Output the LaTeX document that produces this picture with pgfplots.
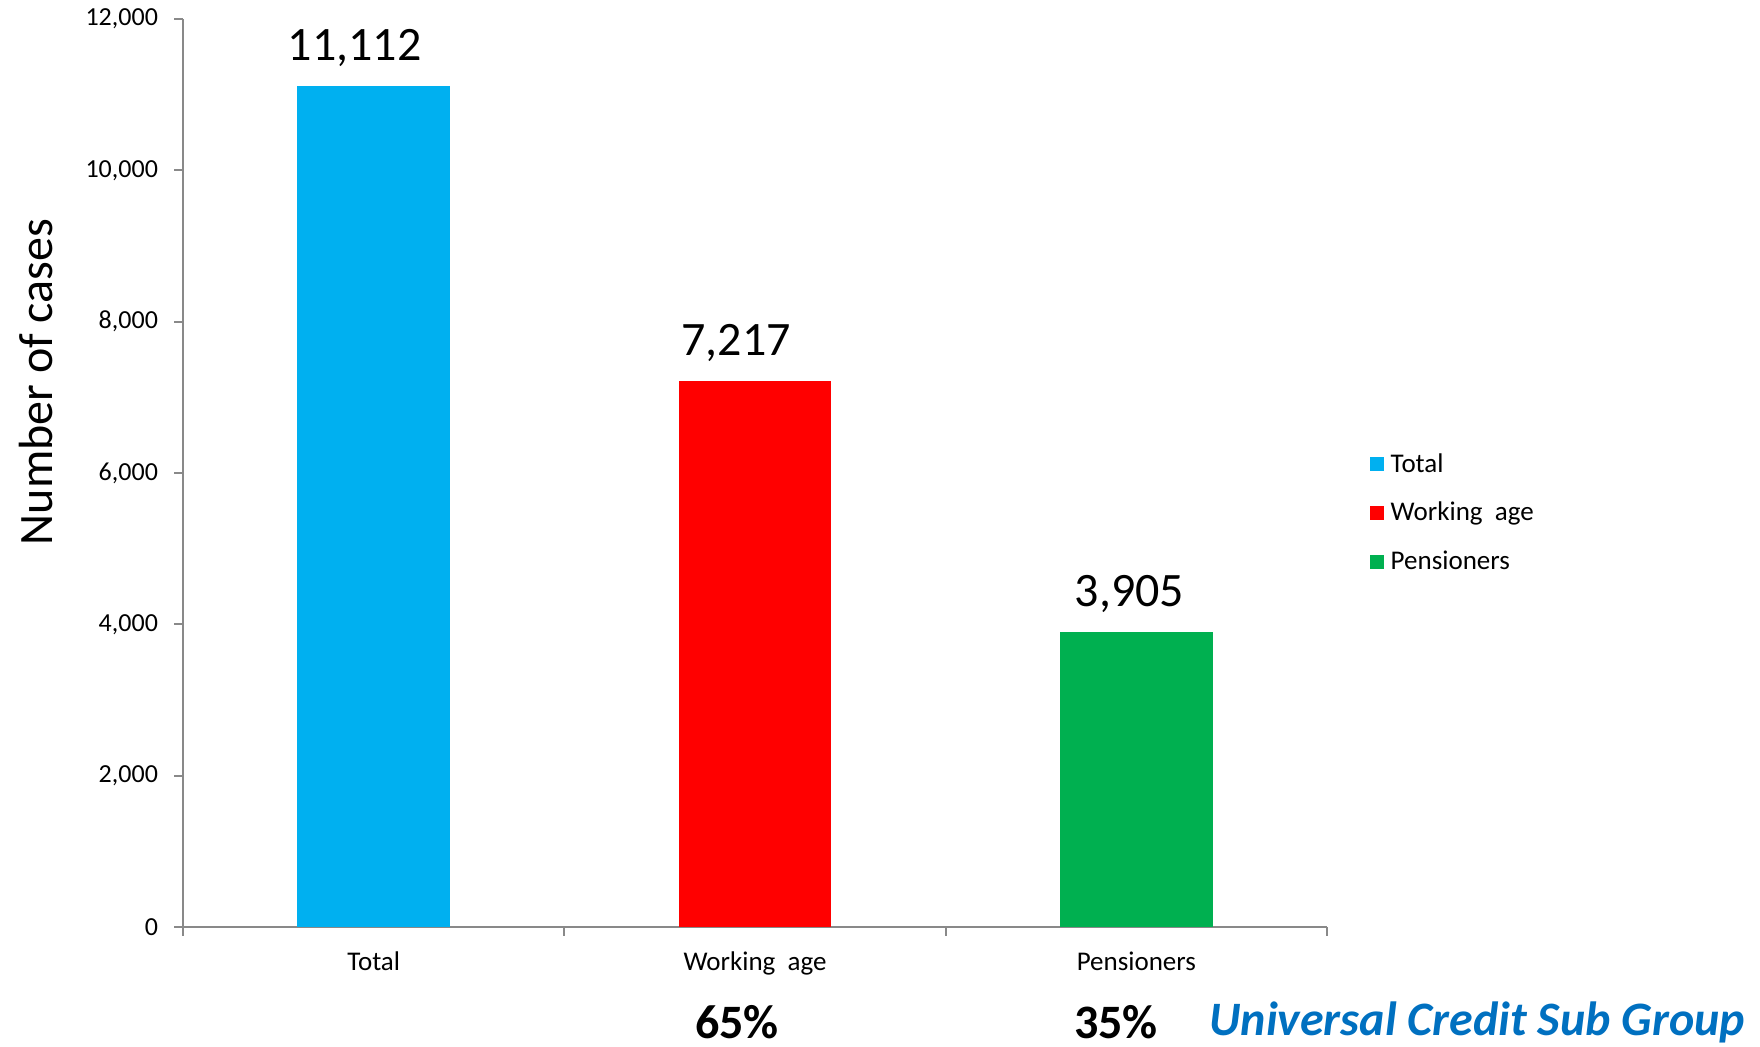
\documentclass[border=0pt]{standalone}
\usepackage{pgfplots}
\pgfplotsset{compat=1.18}
\usepackage{fontspec}
\setmainfont{Carlito}
\definecolor{cTotal}{HTML}{00B0F0}
\definecolor{cWork}{HTML}{FF0000}
\definecolor{cPens}{HTML}{00B050}
\definecolor{axgray}{HTML}{898989}
\definecolor{ucblue}{HTML}{0070C0}
\begin{document}
\begin{tikzpicture}
\useasboundingbox (0,0) rectangle (880pt,523.5pt);
\begin{axis}[
  at={(91.5pt,60pt)}, anchor=south west,
  scale only axis, width=572pt, height=454pt,
  xmin=-0.5, xmax=2.5, ymin=0, ymax=12000,
  axis x line*=bottom, axis y line*=left,
  axis line style={axgray, line width=1pt, -},
  tick align=outside,
  major tick length=4.5pt,
  y tick style={axgray, line width=1pt},
  x tick style={axgray, line width=1pt},
  ytick={0,2000,...,12000},
  scaled y ticks=false,
  yticklabel style={font=\fontsize{13}{15}\selectfont, /pgf/number format/1000 sep={,}, xshift=-4.5pt},
  /pgf/number format/assume math mode=true,
  xtick={-0.5,0.5,1.5,2.5},
  xticklabels={},
  extra x ticks={0,1,2},
  extra x tick labels={Total, Working\ \ age, Pensioners},
  extra x tick style={major tick length=0pt, x tick style={draw=none},
    xticklabel style={font=\fontsize{13.5}{15}\selectfont, yshift=-9pt}},
  clip=false,
  legend style={draw=none, fill=none, at={(1.037,0.456)}, anchor=west,
    font=\fontsize{13.5}{15}\selectfont, row sep=9.5pt, inner sep=0pt,
    nodes={inner xsep=3.5pt}},
  legend cell align=left,
  legend image code/.code={\fill[#1] (0pt,-3.5pt) rectangle (7pt,3.5pt);},
  nodes near coords={\pgfmathprintnumber[1000 sep={,}, assume math mode=true]{\pgfplotspointmeta}},
  every node near coord/.append style={font=\fontsize{24}{28}\selectfont, anchor=south, yshift=6pt},
]
\addplot[ybar, bar width=0.4, bar shift=0pt, fill=cTotal, draw=none,
  every node near coord/.append style={xshift=-9.5pt}] coordinates {(0,11112)};
\addlegendentry{Total}
\addplot[ybar, bar width=0.4, bar shift=0pt, fill=cWork, draw=none,
  every node near coord/.append style={xshift=-9.5pt}] coordinates {(1,7217)};
\addlegendentry{Working\ \ age}
\addplot[ybar, bar width=0.4, bar shift=0pt, fill=cPens, draw=none,
  every node near coord/.append style={xshift=-3.5pt}] coordinates {(2,3905)};
\addlegendentry{Pensioners}
\end{axis}
\node[rotate=90, font=\fontsize{24}{28}\selectfont] at (18pt,332.5pt) {Number of cases};
\node[inner sep=0pt, font=\fontsize{24}{28}\selectfont\bfseries] at (368.5pt,12.5pt) {65\%};
\node[inner sep=0pt, font=\fontsize{24}{28}\selectfont\bfseries] at (558pt,12.5pt) {35\%};
\node[inner sep=0pt, font=\fontsize{24}{28}\selectfont\bfseries\itshape, text=ucblue] at (738.6pt,12.5pt) {Universal Credit Sub Group};
\end{tikzpicture}
\end{document}
